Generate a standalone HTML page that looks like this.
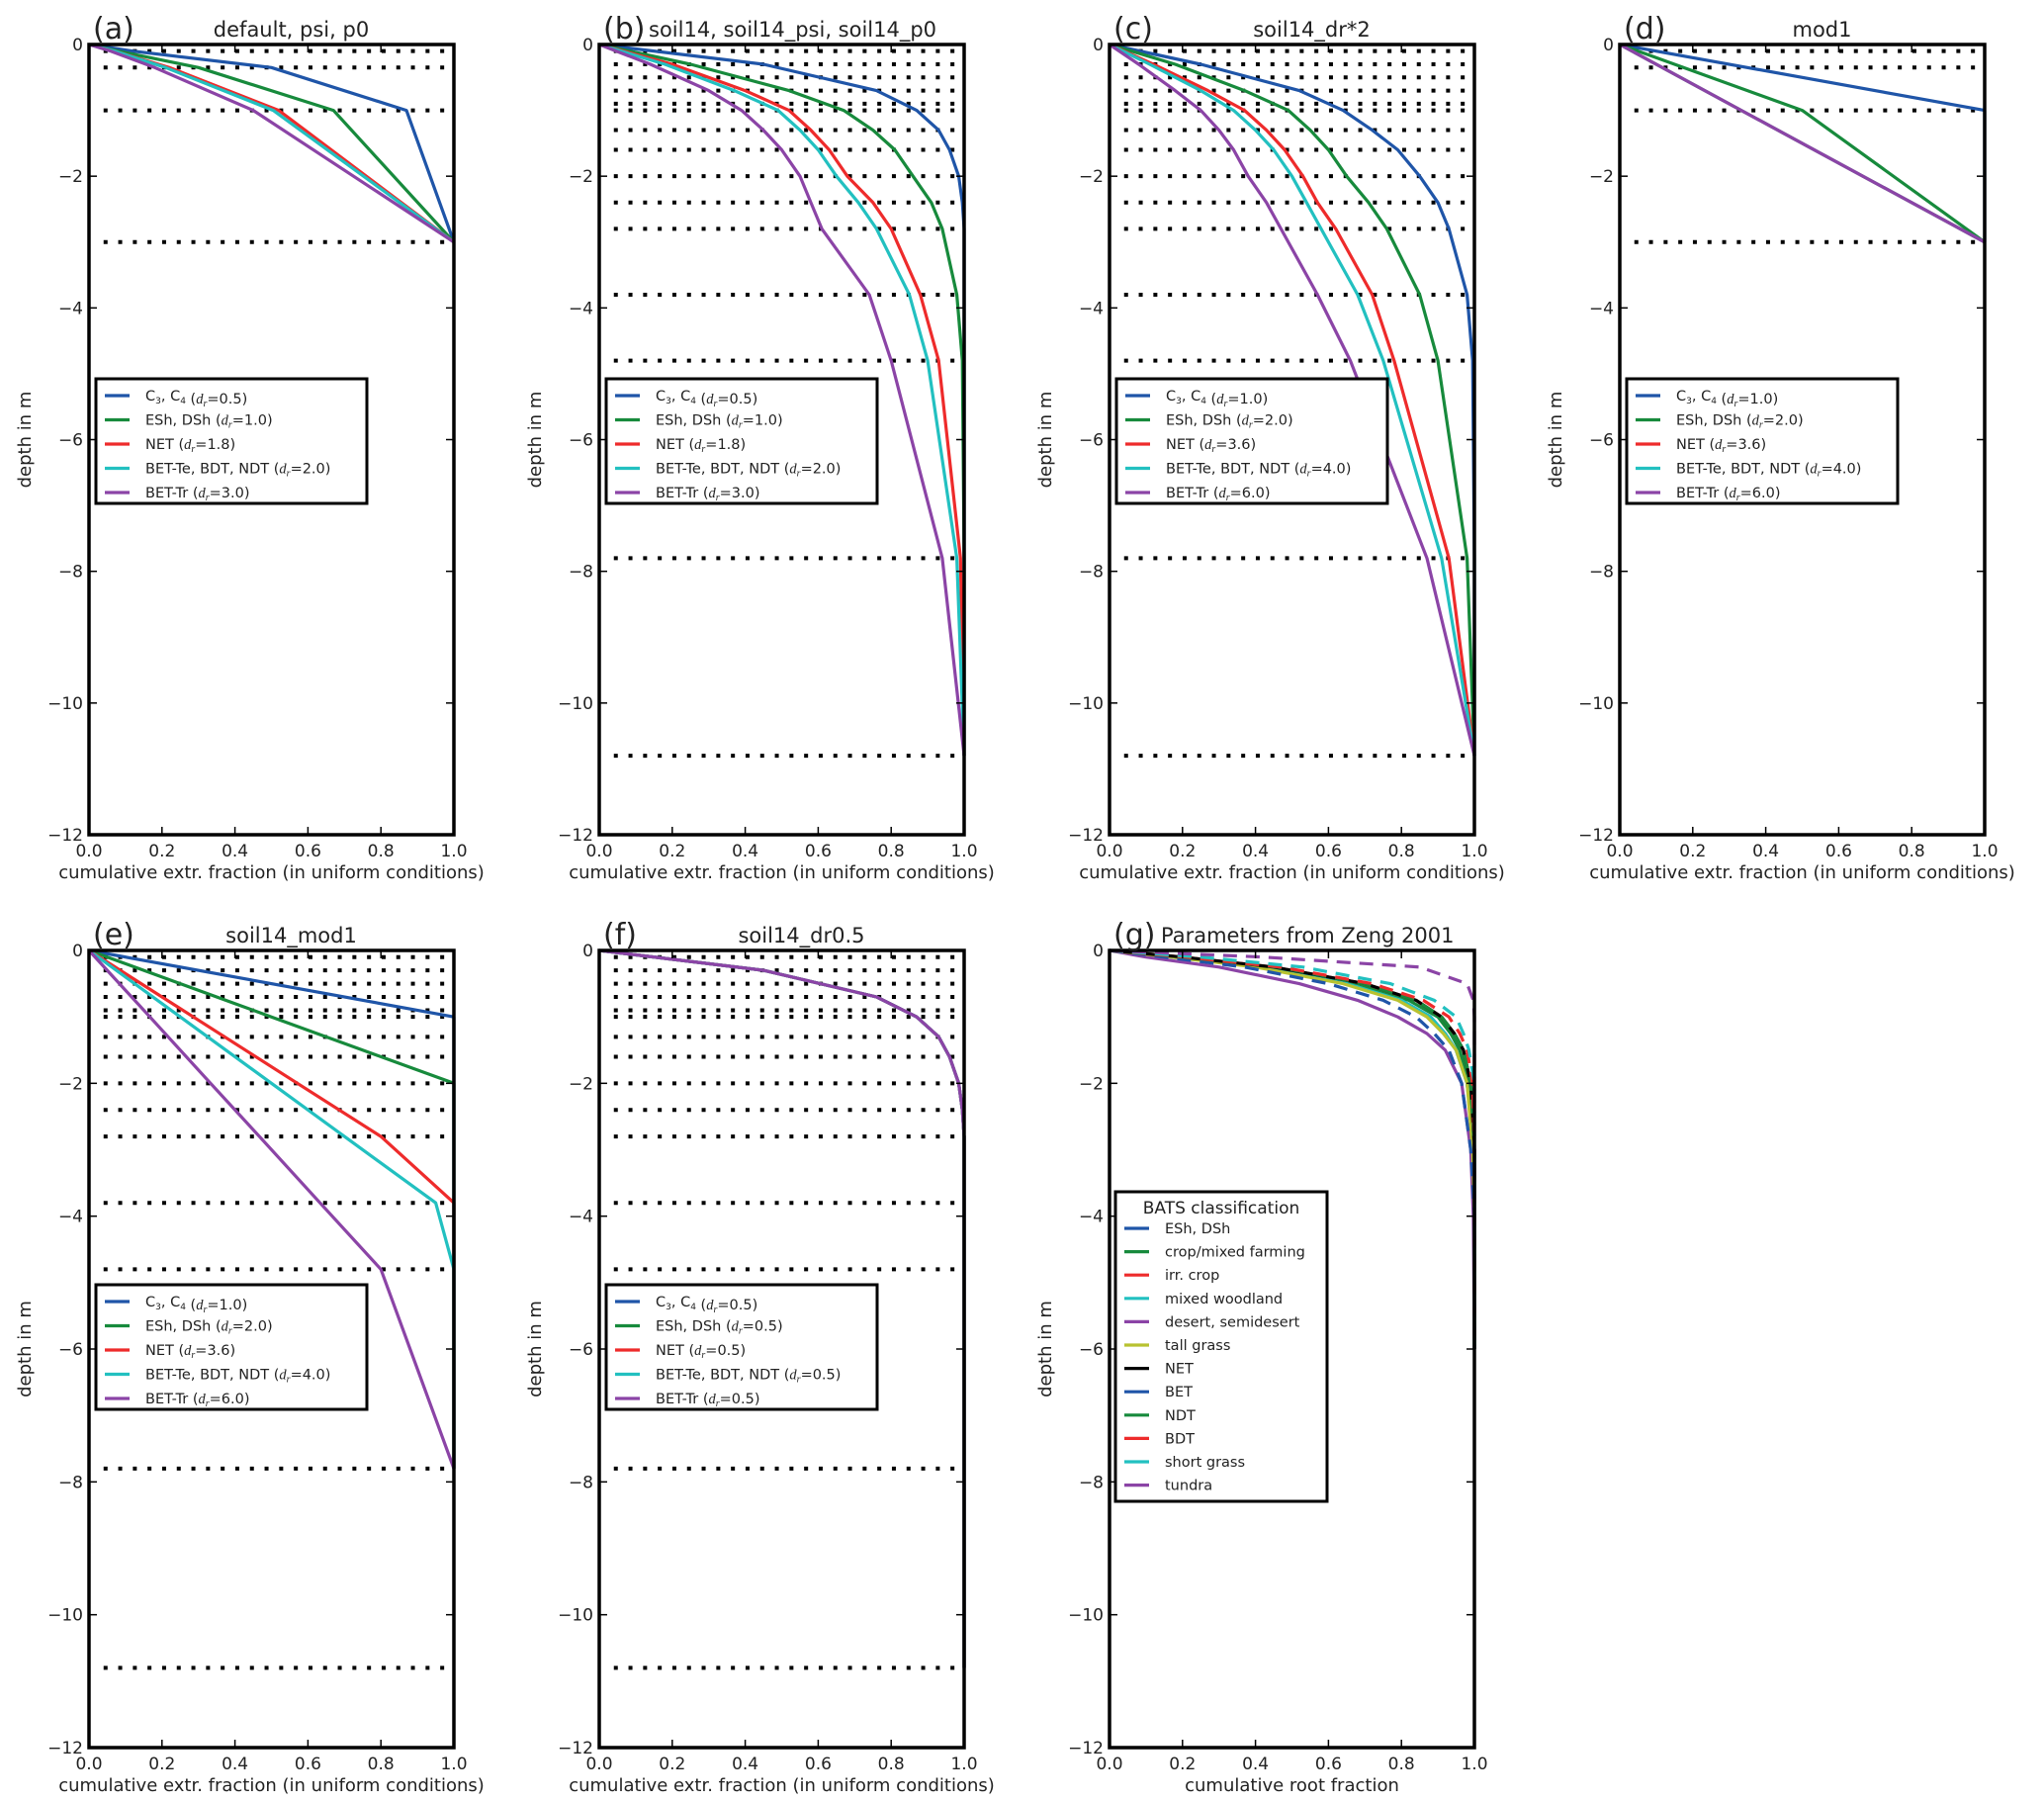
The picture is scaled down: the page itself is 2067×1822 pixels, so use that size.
<!DOCTYPE html>
<html><head><meta charset="utf-8">
<style>
html,body{margin:0;padding:0;background:#fff;}
svg{display:block;font-family:"DejaVu Sans","Liberation Sans",sans-serif;}
</style></head>
<body>
<svg id="fig" width="2067" height="1822" viewBox="0 0 2067 1822" xmlns="http://www.w3.org/2000/svg"></svg>
<script>
// ---- data ----
const xTicks = [0.0, 0.2, 0.4, 0.6, 0.8, 1.0];
const xTickLabels = ["0.0", "0.2", "0.4", "0.6", "0.8", "1.0"];
const yTicks = [0, -2, -4, -6, -8, -10, -12];
const yTickLabels = ["0", "\u22122", "\u22124", "\u22126", "\u22128", "\u221210", "\u221212"];

const levelsDefault = [0.1, 0.35, 1.0, 3.0];
const levelsSoil14 = [0.1, 0.3, 0.5, 0.7, 0.9, 1.0, 1.3, 1.6, 2.0, 2.4, 2.8, 3.8, 4.8, 7.8, 10.8];

const nodesDefault = [0, 0.1, 0.35, 1.0, 3.0];
const aBlue = [0, 0.12, 0.5, 0.87, 1];
const aGreen = [0, 0.08, 0.3, 0.67, 1];
const aRed = [0, 0.07, 0.22, 0.52, 1];
const aCyan = [0, 0.07, 0.21, 0.505, 1];
const aPurple = [0, 0.06, 0.18, 0.45, 1];

const nodesSoil14 = [0, 0.3, 0.7, 1.0, 1.3, 1.6, 2.0, 2.4, 2.8, 3.8, 4.8, 7.8, 10.8];
const bBlue = [0, 0.45, 0.76, 0.87, 0.93, 0.96, 0.985, 0.995, 1, 1, 1, 1, 1];
const bGreen = [0, 0.25, 0.52, 0.67, 0.75, 0.81, 0.86, 0.91, 0.94, 0.98, 0.995, 1, 1];
const bRed = [0, 0.2, 0.4, 0.52, 0.58, 0.63, 0.68, 0.75, 0.8, 0.88, 0.93, 0.99, 1];
const bCyan = [0, 0.18, 0.37, 0.49, 0.55, 0.6, 0.65, 0.71, 0.76, 0.85, 0.9, 0.98, 1];
const bPurple = [0, 0.14, 0.3, 0.39, 0.45, 0.5, 0.55, 0.58, 0.61, 0.74, 0.8, 0.94, 1];

const cBlue = [0, 0.25, 0.52, 0.64, 0.72, 0.79, 0.85, 0.9, 0.93, 0.98, 0.995, 1, 1];
const cGreen = [0, 0.18, 0.37, 0.49, 0.55, 0.6, 0.65, 0.71, 0.76, 0.85, 0.9, 0.98, 1];
const cRed = [0, 0.12, 0.27, 0.37, 0.43, 0.48, 0.53, 0.57, 0.62, 0.72, 0.78, 0.93, 1];
const cCyan = [0, 0.11, 0.25, 0.34, 0.4, 0.45, 0.5, 0.54, 0.58, 0.68, 0.75, 0.91, 1];
const cPurple = [0, 0.08, 0.18, 0.25, 0.3, 0.34, 0.38, 0.43, 0.47, 0.57, 0.66, 0.87, 1];

const dNodes = [0, 1.0, 3.0];
const dBlue = [0, 1, 1];
const dGreen = [0, 0.5, 1];
const dRest = [0, 0.333, 1];

const eNodes = [0, 1.0, 2.0, 2.8, 3.8, 4.8, 7.8];
const eBlue = [0, 1, 1, 1, 1, 1, 1];
const eGreen = [0, 0.5, 1, 1, 1, 1, 1];
const eRed = [0, 0.286, 0.571, 0.8, 1, 1, 1];
const eCyan = [0, 0.25, 0.5, 0.7, 0.95, 1, 1];
const ePurple = [0, 0.167, 0.333, 0.467, 0.633, 0.8, 1];

const gNodes = [0, 0.1, 0.25, 0.5, 0.75, 1.0, 1.25, 1.5, 2.0, 3.0, 4.0, 6.0];
const gESh = [0, 0.18, 0.42, 0.65, 0.8, 0.88, 0.92, 0.95, 0.98, 1, 1, 1];
const gCrop = [0, 0.19, 0.44, 0.68, 0.82, 0.9, 0.935, 0.96, 0.985, 1, 1, 1];
const gIrr = [0, 0.2, 0.45, 0.7, 0.84, 0.91, 0.945, 0.97, 0.99, 1, 1, 1];
const gWood = [0, 0.17, 0.41, 0.65, 0.8, 0.88, 0.92, 0.95, 0.98, 1, 1, 1];
const gDesert = [0, 0.1, 0.3, 0.52, 0.68, 0.79, 0.87, 0.92, 0.965, 0.99, 0.997, 1];
const gTall = [0, 0.17, 0.4, 0.64, 0.79, 0.87, 0.915, 0.95, 0.98, 0.995, 1, 1];
const gNET = [0, 0.2, 0.45, 0.7, 0.84, 0.91, 0.945, 0.97, 0.99, 1, 1, 1];
const gBET = [0, 0.15, 0.37, 0.6, 0.75, 0.84, 0.89, 0.93, 0.965, 0.99, 1, 1];
const gNDT = [0, 0.2, 0.46, 0.7, 0.84, 0.91, 0.945, 0.97, 0.99, 1, 1, 1];
const gBDT = [0, 0.21, 0.47, 0.72, 0.86, 0.93, 0.96, 0.98, 0.995, 1, 1, 1];
const gShort = [0, 0.25, 0.53, 0.77, 0.89, 0.95, 0.97, 0.985, 1, 1, 1, 1];
const gTundra = [0, 0.42, 0.85, 0.98, 0.997, 1, 1, 1, 1, 1, 1, 1];

// ---- styles ----
const BLUE = "#1f55a8", GREEN = "#178a3c", RED = "#ee2b2b", CYAN = "#22c0c0", PURPLE = "#8b44a6", OLIVE = "#b8c230", BLACK = "#000";
const NS = "http://www.w3.org/2000/svg";
const fig = document.getElementById("fig");

function mk(tag, attrs, parent) {
  const e = document.createElementNS(NS, tag);
  for (const k in attrs) e.setAttribute(k, attrs[k]);
  (parent || fig).appendChild(e);
  return e;
}

function drLabel(t, pre, val) {
  t.appendChild(document.createTextNode(pre + " ("));
  const d = document.createElementNS(NS, "tspan");
  d.setAttribute("font-family", "Liberation Serif, serif");
  d.setAttribute("font-style", "italic");
  d.textContent = "d";
  t.appendChild(d);
  const r = document.createElementNS(NS, "tspan");
  r.setAttribute("font-family", "Liberation Serif, serif");
  r.setAttribute("font-style", "italic");
  r.setAttribute("font-size", "10");
  r.setAttribute("dy", "3");
  r.textContent = "r";
  t.appendChild(r);
  const v = document.createElementNS(NS, "tspan");
  v.setAttribute("dy", "-3");
  v.textContent = "=" + val + ")";
  t.appendChild(v);
}

function c34Label(t, val) {
  t.appendChild(document.createTextNode("C"));
  const s1 = document.createElementNS(NS, "tspan");
  s1.setAttribute("font-size", "9"); s1.setAttribute("dy", "3"); s1.textContent = "3";
  t.appendChild(s1);
  const m = document.createElementNS(NS, "tspan");
  m.setAttribute("dy", "-3"); m.textContent = ", C";
  t.appendChild(m);
  const s2 = document.createElementNS(NS, "tspan");
  s2.setAttribute("font-size", "9"); s2.setAttribute("dy", "3"); s2.textContent = "4";
  t.appendChild(s2);
  const rest = document.createElementNS(NS, "tspan");
  rest.setAttribute("dy", "-3"); rest.textContent = "";
  t.appendChild(rest);
  drLabel(t, "", val);
}

function panel(cfg) {
  const g = mk("g", {});
  
  
  const X = v => cfg.x0 + v * (cfg.x1 - cfg.x0);
  const Y = d => cfg.y0 + (-d / 12) * (cfg.y1 - cfg.y0);

  if (cfg.levels) {
    const lg = mk("g", {}, g);
    
    
    for (const lv of cfg.levels) {
      const l = mk("line", {x1: X(0.04), x2: X(1), y1: Y(-lv), y2: Y(-lv), stroke: "#000", "stroke-width": 4, "stroke-dasharray": "4 10.8"}, lg);
      
      
    }
  }
  const sg = mk("g", {}, g);
  
  
  for (const s of cfg.series) {
    const pts = s.xs.map((v, i) => X(v).toFixed(1) + "," + Y(-s.zs[i]).toFixed(1)).join(" ");
    const p = mk("polyline", {points: pts, fill: "none", stroke: s.color, "stroke-width": 3.2, "stroke-linejoin": "round"}, sg);
    if (s.dash) p.setAttribute("stroke-dasharray", "14 9");
    
    
  }
  const fr = mk("rect", {x: cfg.x0, y: cfg.y0, width: cfg.x1 - cfg.x0, height: cfg.y1 - cfg.y0, fill: "none", stroke: "#000", "stroke-width": 3.5}, g);
  
  
  xTicks.forEach((v, i) => {
    mk("line", {x1: X(v), x2: X(v), y1: cfg.y1, y2: cfg.y1 - 8, stroke: "#000", "stroke-width": 1.5}, g);
    mk("line", {x1: X(v), x2: X(v), y1: cfg.y0, y2: cfg.y0 + 8, stroke: "#000", "stroke-width": 1.5}, g);
    const t = mk("text", {x: X(v), y: cfg.y1 + 22, "font-size": 17, "text-anchor": "middle", fill: "#222"}, g);
    t.textContent = xTickLabels[i];
    
    
  });
  yTicks.forEach((v, i) => {
    mk("line", {x1: cfg.x0, x2: cfg.x0 + 8, y1: Y(v), y2: Y(v), stroke: "#000", "stroke-width": 1.5}, g);
    mk("line", {x1: cfg.x1, x2: cfg.x1 - 8, y1: Y(v), y2: Y(v), stroke: "#000", "stroke-width": 1.5}, g);
    const t = mk("text", {x: cfg.x0 - 6, y: Y(v) + 6, "font-size": 17, "text-anchor": "end", fill: "#222"}, g);
    t.textContent = yTickLabels[i];
    
    
  });
  const xl = mk("text", {x: (cfg.x0 + cfg.x1) / 2, y: cfg.y1 + 44, "font-size": 18, "text-anchor": "middle", fill: "#222"}, g);
  xl.textContent = cfg.xlabel;
  
  
  const yx = cfg.x0 - 59, yy = (cfg.y0 + cfg.y1) / 2;
  const yl = mk("text", {x: yx, y: yy, "font-size": 18, "text-anchor": "middle", fill: "#222", transform: "rotate(-90 " + yx + " " + yy + ")"}, g);
  yl.textContent = "depth in m";
  
  
  const pl = mk("text", {x: cfg.x0 + 4, y: cfg.y0 - 6, "font-size": 30, fill: "#222"}, g);
  pl.textContent = "(" + cfg.id + ")";
  
  
  const tt = mk("text", {x: cfg.titleX != null ? cfg.titleX : (cfg.x0 + cfg.x1) / 2 + 20, y: cfg.y0 - 8, "font-size": 21, "text-anchor": cfg.titleX != null ? "start" : "middle", fill: "#222"}, g);
  tt.textContent = cfg.title;
  
  

  const L = cfg.legend;
  const lgd = mk("g", {}, g);
  
  
  const lx = cfg.x0 + L.dx, ly = cfg.y0 + L.dy;
  mk("rect", {x: lx, y: ly, width: L.w, height: L.h, fill: "#fff", stroke: "#000", "stroke-width": 3}, lgd);
  let ry = ly + (L.title ? 42 : 22);
  if (L.title) {
    const tt2 = mk("text", {x: lx + L.w / 2, y: ly + 22, "font-size": 17, "text-anchor": "middle", fill: "#222"}, lgd);
    tt2.textContent = L.title;
    
    
  }
  cfg.series.slice().sort((a, b) => a.order - b.order).forEach(s => {
    const e = mk("g", {}, lgd);
    
    
    mk("line", {x1: lx + 9, x2: lx + 34, y1: ry - 5, y2: ry - 5, stroke: s.color, "stroke-width": 3.2}, e);
    const t = mk("text", {x: lx + 50, y: ry, "font-size": 14.5, fill: "#222"}, e);
    s.label(t);
    ry += L.row;
  });
}

const C14 = v => t => c34Label(t, v);
const DL = (p, v) => t => drLabel(t, p, v);
const TX = s => t => { t.textContent = s; };

const xlab = "cumulative extr. fraction (in uniform conditions)";
const cols = [[90, 459], [606, 975], [1122, 1491], [1638, 2007]];
const row1 = [45, 844], row2 = [961, 1767];
const legSmall = {dx: 7, dy: 338, w: 274, h: 126, row: 24.5};

function five(nodes, xsArr, labels) {
  const colors = [BLUE, GREEN, RED, CYAN, PURPLE];
  const keys = ["c3-c4", "esh-dsh", "net", "bet-te", "bet-tr"];
  return xsArr.map((xs, i) => ({key: keys[i], color: colors[i], xs: xs, zs: nodes, label: labels[i], order: i}));
}

panel({id: "a", x0: cols[0][0], x1: cols[0][1], y0: row1[0], y1: row1[1], title: "default, psi, p0", xlabel: xlab, levels: levelsDefault,
  series: five(nodesDefault, [aBlue, aGreen, aRed, aCyan, aPurple], [C14("0.5"), DL("ESh, DSh", "1.0"), DL("NET", "1.8"), DL("BET-Te, BDT, NDT", "2.0"), DL("BET-Tr", "3.0")]),
  legend: legSmall});
panel({id: "b", x0: cols[1][0], x1: cols[1][1], y0: row1[0], y1: row1[1], title: "soil14, soil14_psi, soil14_p0", titleX: cols[1][0] + 50, xlabel: xlab, levels: levelsSoil14,
  series: five(nodesSoil14, [bBlue, bGreen, bRed, bCyan, bPurple], [C14("0.5"), DL("ESh, DSh", "1.0"), DL("NET", "1.8"), DL("BET-Te, BDT, NDT", "2.0"), DL("BET-Tr", "3.0")]),
  legend: legSmall});
panel({id: "c", x0: cols[2][0], x1: cols[2][1], y0: row1[0], y1: row1[1], title: "soil14_dr*2", xlabel: xlab, levels: levelsSoil14,
  series: five(nodesSoil14, [cBlue, cGreen, cRed, cCyan, cPurple], [C14("1.0"), DL("ESh, DSh", "2.0"), DL("NET", "3.6"), DL("BET-Te, BDT, NDT", "4.0"), DL("BET-Tr", "6.0")]),
  legend: legSmall});
panel({id: "d", x0: cols[3][0], x1: cols[3][1], y0: row1[0], y1: row1[1], title: "mod1", xlabel: xlab, levels: levelsDefault,
  series: five(dNodes, [dBlue, dGreen, dRest, dRest, dRest], [C14("1.0"), DL("ESh, DSh", "2.0"), DL("NET", "3.6"), DL("BET-Te, BDT, NDT", "4.0"), DL("BET-Tr", "6.0")]),
  legend: legSmall});
panel({id: "e", x0: cols[0][0], x1: cols[0][1], y0: row2[0], y1: row2[1], title: "soil14_mod1", xlabel: xlab, levels: levelsSoil14,
  series: five(eNodes, [eBlue, eGreen, eRed, eCyan, ePurple], [C14("1.0"), DL("ESh, DSh", "2.0"), DL("NET", "3.6"), DL("BET-Te, BDT, NDT", "4.0"), DL("BET-Tr", "6.0")]),
  legend: legSmall});
panel({id: "f", x0: cols[1][0], x1: cols[1][1], y0: row2[0], y1: row2[1], title: "soil14_dr0.5", xlabel: xlab, levels: levelsSoil14,
  series: five(nodesSoil14, [bBlue, bBlue, bBlue, bBlue, bBlue], [C14("0.5"), DL("ESh, DSh", "0.5"), DL("NET", "0.5"), DL("BET-Te, BDT, NDT", "0.5"), DL("BET-Tr", "0.5")]),
  legend: legSmall});

const gSeries = [
  {key: "esh-dsh", color: BLUE, xs: gESh, label: TX("ESh, DSh")},
  {key: "crop", color: GREEN, xs: gCrop, label: TX("crop/mixed farming")},
  {key: "irr-crop", color: RED, xs: gIrr, label: TX("irr. crop")},
  {key: "mixed-woodland", color: CYAN, xs: gWood, label: TX("mixed woodland")},
  {key: "desert", color: PURPLE, xs: gDesert, label: TX("desert, semidesert")},
  {key: "tall-grass", color: OLIVE, xs: gTall, label: TX("tall grass")},
  {key: "net", color: BLACK, xs: gNET, label: TX("NET")},
  {key: "bet", color: BLUE, xs: gBET, dash: true, label: TX("BET")},
  {key: "ndt", color: GREEN, xs: gNDT, dash: true, label: TX("NDT")},
  {key: "bdt", color: RED, xs: gBDT, dash: true, label: TX("BDT")},
  {key: "short-grass", color: CYAN, xs: gShort, dash: true, label: TX("short grass")},
  {key: "tundra", color: PURPLE, xs: gTundra, dash: true, label: TX("tundra")}
].map((s, i) => Object.assign(s, {zs: gNodes, order: i}));

panel({id: "g", x0: cols[2][0], x1: cols[2][1], y0: row2[0], y1: row2[1], title: "Parameters from Zeng 2001", titleX: cols[2][0] + 52, xlabel: "cumulative root fraction", levels: null,
  series: gSeries, legend: {dx: 6, dy: 244, w: 214, h: 313, row: 23.6, title: "BATS classification"}});
</script>
</body></html>
